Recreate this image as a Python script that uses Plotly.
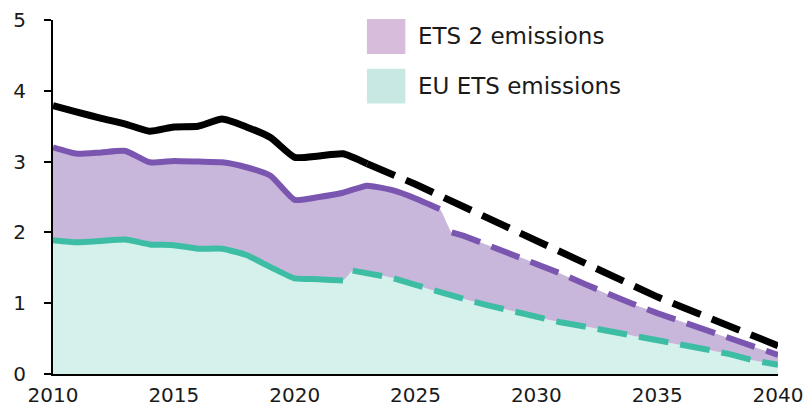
import plotly.graph_objects as go

# ---- data (Gt CO2e) ----
total_years = [2010, 2011, 2012, 2013, 2014, 2015, 2016, 2017, 2018, 2019, 2020, 2021, 2022, 2023,
               2024, 2025, 2026, 2027, 2028, 2029, 2030, 2031, 2032, 2033, 2034, 2035, 2036, 2037,
               2038, 2039, 2040]
total_vals = [3.79, 3.70, 3.61, 3.53, 3.43, 3.49, 3.50, 3.60, 3.49, 3.34, 3.06, 3.08, 3.11, 2.97,
              2.83, 2.68, 2.52, 2.36, 2.20, 2.03, 1.87, 1.71, 1.55, 1.39, 1.24, 1.09, 0.95, 0.81,
              0.67, 0.53, 0.40]
total_proj_start = 2023

ets2_years = [2010, 2011, 2012, 2013, 2014, 2015, 2016, 2017, 2018, 2019, 2020, 2021, 2022, 2023,
              2024, 2025, 2026, 2026.5, 2027, 2028, 2029, 2030, 2031, 2032, 2033, 2034, 2035, 2036,
              2037, 2038, 2039, 2040]
ets2_vals = [3.20, 3.11, 3.13, 3.15, 2.99, 3.01, 3.00, 2.99, 2.92, 2.80, 2.46, 2.50, 2.56, 2.66,
             2.60, 2.48, 2.33, 2.00, 1.95, 1.82, 1.69, 1.56, 1.42, 1.27, 1.12, 0.99, 0.86, 0.74,
             0.62, 0.50, 0.38, 0.27]
ets2_proj_start = 2026.5

euets_years = [2010, 2011, 2012, 2013, 2014, 2015, 2016, 2017, 2018, 2019, 2020, 2021, 2022, 2022.4,
               2023, 2024, 2025, 2026, 2027, 2028, 2029, 2030, 2031, 2032, 2033, 2034, 2035, 2036,
               2037, 2038, 2039, 2040]
euets_vals = [1.89, 1.86, 1.88, 1.90, 1.83, 1.82, 1.77, 1.77, 1.68, 1.51, 1.35, 1.34, 1.32, 1.46,
              1.43, 1.36, 1.26, 1.15, 1.06, 0.97, 0.89, 0.80, 0.73, 0.67, 0.61, 0.54, 0.47, 0.41,
              0.35, 0.28, 0.19, 0.13]
euets_proj_start = 2022.4

legend_labels = ["ETS 2 emissions", "EU ETS emissions"]
x_ticks = [2010, 2015, 2020, 2025, 2030, 2035, 2040]
y_ticks = [0, 1, 2, 3, 4, 5]

# ---- styles ----
TEAL_LINE = "#3dbda4"
TEAL_FILL = "#d5f1ec"
PURPLE_LINE = "#7b56b0"
PURPLE_FILL = "#c9b7db"
LEG_PURPLE = "#d8bcdc"
LEG_TEAL = "#c8e9e3"
FONT = "DejaVu Sans"
TXT = "#1a1a1a"
DASH = "30px,12px"
SMOOTH = 0.5


def split(xs, ys, start, gap):
    keep = (lambda x: x < start) if gap else (lambda x: x <= start)
    hx = [x for x in xs if keep(x)]
    hy = [y for x, y in zip(xs, ys) if keep(x)]
    px = [x for x in xs if x >= start]
    py = [y for x, y in zip(xs, ys) if x >= start]
    return hx, hy, px, py


fig = go.Figure()

# filled areas
fig.add_trace(go.Scatter(x=euets_years, y=euets_vals, mode="lines",
                         line=dict(width=0, shape="spline", smoothing=SMOOTH),
                         fill="tozeroy", fillcolor=TEAL_FILL, hoverinfo="skip", showlegend=False))
fig.add_trace(go.Scatter(x=ets2_years, y=ets2_vals, mode="lines",
                         line=dict(width=0, shape="spline", smoothing=SMOOTH),
                         fill="tonexty", fillcolor=PURPLE_FILL, hoverinfo="skip", showlegend=False))

# lines: historical solid, projection dashed
for xs, ys, start, color, w, gap in [
    (euets_years, euets_vals, euets_proj_start, TEAL_LINE, 6, True),
    (ets2_years, ets2_vals, ets2_proj_start, PURPLE_LINE, 6, True),
    (total_years, total_vals, total_proj_start, "#000000", 7, False),
]:
    hx, hy, px, py = split(xs, ys, start, gap)
    fig.add_trace(go.Scatter(x=hx, y=hy, mode="lines",
                             line=dict(color=color, width=w, shape="spline", smoothing=SMOOTH),
                             showlegend=False, hoverinfo="skip"))
    fig.add_trace(go.Scatter(x=px, y=py, mode="lines",
                             line=dict(color=color, width=w, dash=DASH),
                             showlegend=False, hoverinfo="skip"))

# manual legend (swatches + labels)
swatches = [(LEG_PURPLE, 1.003, 0.904, 0.955), (LEG_TEAL, 0.862, 0.764, 0.813)]
for (col, y1, y0, ty), label in zip(swatches, legend_labels):
    fig.add_shape(type="rect", xref="paper", yref="paper", x0=0.433, x1=0.486, y0=y0, y1=y1,
                  fillcolor=col, line=dict(width=0), layer="above")
    fig.add_annotation(xref="paper", yref="paper", x=0.500, y=ty, text=label, showarrow=False,
                       xanchor="left", yanchor="middle",
                       font=dict(family=FONT, size=23, color=TXT))

# the page body adds an 8px offset, so margins are shifted up/left by 8px
fig.update_layout(
    width=812, height=413,
    margin=dict(l=45, r=42, t=12, b=47, autoexpand=False),
    paper_bgcolor="white", plot_bgcolor="white",
    font=dict(family=FONT, size=20, color=TXT),
    showlegend=False,
)
fig.update_xaxes(range=[2010, 2040], tickvals=x_ticks, ticktext=[str(v) for v in x_ticks],
                 showgrid=False, zeroline=False, showline=True, linecolor="#000", linewidth=2,
                 ticks="", automargin=False, ticklabelstandoff=2, ticklabeloverflow="allow",
                 tickfont=dict(family=FONT, size=20, color=TXT))
fig.update_yaxes(range=[0, 5], tickvals=y_ticks, showgrid=False, zeroline=False, showline=True,
                 linecolor="#000", linewidth=2, ticks="outside", ticklen=7, tickwidth=2,
                 tickcolor="#000", ticklabelstandoff=14, automargin=False,
                 ticklabeloverflow="allow",
                 tickfont=dict(family=FONT, size=20, color=TXT))

fig.write_html("out.html")
